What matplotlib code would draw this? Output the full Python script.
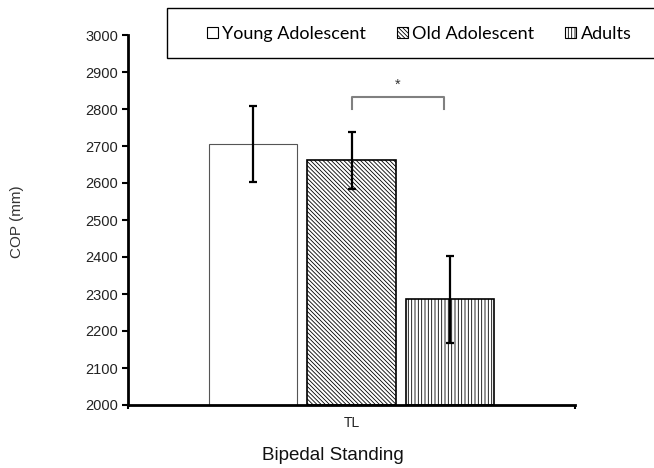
import numpy as np
import matplotlib
matplotlib.use("Agg")
import matplotlib.pyplot as plt
from matplotlib.patches import Patch, Rectangle

plt.rcParams["font.family"] = ["Liberation Sans", "DejaVu Sans"]
plt.rcParams["hatch.linewidth"] = 0.6

# ---- data ----
groups = ["Young Adolescent", "Old Adolescent", "Adults"]
means = [2705, 2661, 2286]
errors = [102, 76, 118]
category = "TL"
hatches = ["", "\\" * 8, "|" * 5]
yticks = list(range(2000, 3001, 100))

fig = plt.figure(figsize=(6.54, 4.68), dpi=100)
ax = fig.add_axes([128 / 654, 1 - 405 / 468, 447 / 654, 370 / 468])

x = np.arange(len(groups)) - 1.0
edge_cols = ["#555555", "black", "black"]
edge_lws = [0.8, 1.2, 1.2]
for xi, m, e, h, ec, lw in zip(x, means, errors, hatches, edge_cols, edge_lws):
    ax.bar(xi, m - 2000, bottom=2000, width=0.9, color="white",
           edgecolor=ec, linewidth=lw, hatch=h, zorder=2)
    ax.errorbar(xi, m, yerr=e, fmt="none", ecolor="black", elinewidth=1.6,
                capsize=3, capthick=1.6, zorder=3)

# significance bracket between Old Adolescent and Adults
bx0, bx1 = 0.0, 0.94
ax.plot([bx0, bx0, bx1, bx1], [2800, 2832, 2832, 2800], color="#808080",
        lw=1.5, clip_on=False, zorder=3)
ax.text((bx0 + bx1) / 2, 2866, "*", ha="center", va="center", fontsize=10.5,
        color="#333333")

ax.set_ylim(2000, 3000)
ax.set_xlim(-2.27, 2.27)
ax.set_yticks(yticks)
ax.set_xticks([0])
ax.set_xticklabels([category])
ax.tick_params(axis="x", length=0, pad=8, labelsize=10, labelcolor="#222222")
ax.set_xticks([-2.27, 2.27], minor=True)
ax.tick_params(axis="x", which="minor", length=3, width=1.5)
ax.tick_params(axis="y", direction="out", length=4, width=1.5, labelsize=10.5,
               labelcolor="#222222", pad=3)
for sp in ("top", "right"):
    ax.spines[sp].set_visible(False)
for sp in ("left", "bottom"):
    ax.spines[sp].set_linewidth(2)

fig.text(17 / 654, 1 - 222 / 468, "COP (mm)", rotation=90, ha="center",
         va="center", fontsize=11, color="#333333")
fig.text(333 / 654, 1 - 455 / 468, "Bipedal Standing", ha="center",
         va="center", fontsize=13.5, color="#111111")

# legend box running off the right edge
fig.add_artist(Rectangle((167 / 654, 1 - 58 / 468), 0.8, 50 / 468,
                         transform=fig.transFigure, facecolor="white",
                         edgecolor="black", lw=1.0, clip_on=False))
handles = [Patch(facecolor="white", edgecolor="black", lw=0.8, hatch=h)
           for h in hatches]
fig.legend(handles, groups, loc="center left",
           bbox_to_anchor=(198 / 654, 1 - 34 / 468), ncol=3, frameon=False,
           borderpad=0, handlelength=0.6, handleheight=0.6,
           handletextpad=0.25, columnspacing=1.7,
           prop={"family": "Lato", "size": 13})

fig.savefig("out.png", dpi=100)
